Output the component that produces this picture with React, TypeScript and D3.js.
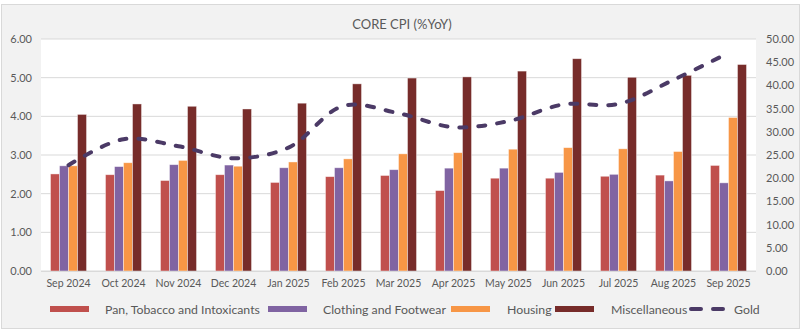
import React from "react";
import * as d3 from "d3";

const categories = ["Sep 2024","Oct 2024","Nov 2024","Dec 2024","Jan 2025","Feb 2025","Mar 2025","Apr 2025","May 2025","Jun 2025","Jul 2025","Aug 2025","Sep 2025"];
const panTobacco = [2.51,2.49,2.34,2.49,2.29,2.44,2.47,2.08,2.40,2.40,2.45,2.48,2.73];
const clothing = [2.72,2.70,2.75,2.74,2.67,2.67,2.62,2.66,2.66,2.55,2.50,2.33,2.28];
const housing = [2.72,2.80,2.86,2.71,2.82,2.90,3.03,3.06,3.15,3.19,3.16,3.09,3.97];
const misc = [4.05,4.32,4.26,4.19,4.34,4.84,4.99,5.02,5.17,5.49,5.01,5.06,5.34];
const gold = [22.8,28.4,26.9,24.3,26.6,35.6,34.0,31.0,32.3,35.9,36.0,41.2,47.0];
const leftTicks = [0,1,2,3,4,5,6];
const rightTicks = [0,5,10,15,20,25,30,35,40,45,50];

const seriesNames = ["Pan, Tobacco and Intoxicants","Clothing and Footwear","Housing","Miscellaneous"];
const seriesData = [panTobacco, clothing, housing, misc];
const colors = ["#c0504d","#8064a2","#f79646","#772c2a"];
const goldColor = "#4b3a66";
const textColor = "#595959";
const font = "Lato, 'Open Sans', sans-serif";

export default function App() {
  const W = 802, H = 330;
  const left = 41, right = 756, top = 39, bottom = 271;
  const x = d3.scaleBand<string>().domain(categories).range([left, right]).paddingInner(0.345).paddingOuter(0.1727);
  const xs = d3.scaleBand<string>().domain(seriesNames).range([0, x.bandwidth()]).padding(0);
  const y = d3.scaleLinear().domain([0, 6]).range([bottom, top]);
  const y2 = d3.scaleLinear().domain([0, 50]).range([bottom, top]);
  const line = d3.line<number>()
    .x((_, i) => (x(categories[i]) as number) + x.bandwidth() / 2)
    .y((d) => y2(d))
    .curve(d3.curveCatmullRom.alpha(0.5));

  const legendItems = [
    { sx: 50, tx: 105, i: 0 },
    { sx: 268, tx: 323, i: 1 },
    { sx: 451, tx: 507, i: 2 },
    { sx: 555, tx: 611, i: 3 },
  ];

  return (
    <svg width={W} height={H} style={{ position: "absolute", left: 0, top: 0, fontFamily: font }}>
      <rect x={0} y={0} width={W} height={H} fill="#ffffff" />
      <rect x={1.5} y={4.5} width={798} height={324} fill="#f2f2f2" stroke="#d9d9d9" strokeWidth={1} />
      <rect x={left} y={top} width={right - left} height={bottom - top} fill="#ffffff" />
      <text x={402} y={28.5} textAnchor="middle" fontSize={13} fill={textColor}>CORE CPI (%YoY)</text>
      {leftTicks.map((t) => (
        <g key={"l" + t}>
          <line x1={left} x2={right} y1={y(t)} y2={y(t)} stroke="#d9d9d9" strokeWidth={1} />
          <text x={32} y={y(t) + 4} textAnchor="end" fontSize={11} fill={textColor}>{t.toFixed(2)}</text>
        </g>
      ))}
      {rightTicks.map((t) => (
        <text key={"r" + t} x={766} y={y2(t) + 4} textAnchor="start" fontSize={11} fill={textColor}>{t.toFixed(2)}</text>
      ))}
      {categories.map((c, ci) => (
        <g key={c}>
          {seriesData.map((s, si) => (
            <rect key={si}
              x={(x(c) as number) + (xs(seriesNames[si]) as number)}
              y={y(s[ci])}
              width={xs.bandwidth()}
              height={bottom - y(s[ci])}
              fill={colors[si]}
              stroke="#ffffff" strokeOpacity={0.55} strokeWidth={0.75} />
          ))}
          <text x={(x(c) as number) + x.bandwidth() / 2} y={287} textAnchor="middle" fontSize={10.5} fill={textColor}>{c}</text>
        </g>
      ))}
      <line x1={left} x2={right} y1={bottom + 0.5} y2={bottom + 0.5} stroke="#d9d9d9" />
      <path d={line(gold) || ""} fill="none" stroke={goldColor} strokeWidth={4} strokeDasharray="7 12" strokeLinecap="round" />
      {legendItems.map((l) => (
        <g key={l.i}>
          <rect x={l.sx} y={306} width={39} height={6} fill={colors[l.i]} />
          <text x={l.tx} y={313.5} fontSize={12.3} fill={textColor}>{seriesNames[l.i]}</text>
        </g>
      ))}
      <line x1={691} x2={727} y1={309} y2={309} stroke={goldColor} strokeWidth={4} strokeDasharray="10 12" strokeLinecap="round" />
      <text x={734} y={313.5} fontSize={12.3} fill={textColor}>Gold</text>
    </svg>
  );
}
